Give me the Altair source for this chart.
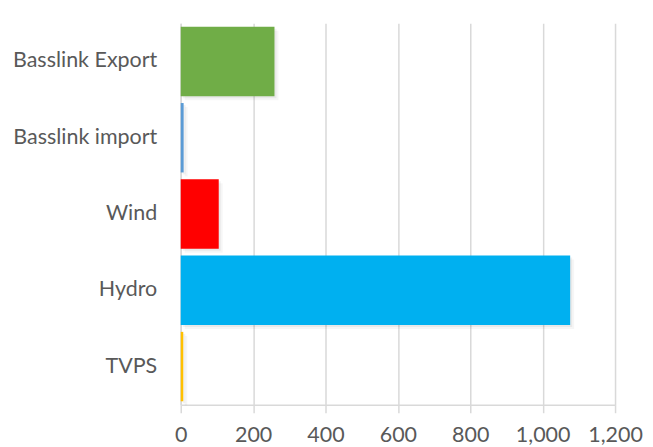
import altair as alt
import pandas as pd

categories = ["Basslink Export", "Basslink import", "Wind", "Hydro", "TVPS"]
values = [259, 8, 105, 1076, 7]
colors = ["#70ad47", "#5b9bd5", "#ff0000", "#00b0f0", "#ffc000"]

df = pd.DataFrame({"cat": categories, "val": values, "col": colors})

FONT = "Lato"
TXT = "#595959"
GRID = "#d9d9d9"

y_enc = alt.Y("cat:N", sort=categories, title=None,
              scale=alt.Scale(paddingInner=0.09, paddingOuter=0.045),
              axis=alt.Axis(labelFont=FONT, labelFontSize=21.5, labelColor=TXT,
                            labelPadding=24, ticks=False, domainColor=GRID,
                            domainWidth=1.5, grid=False))
x_enc = alt.X("val:Q", title=None,
              scale=alt.Scale(domain=[0, 1200], nice=False),
              axis=alt.Axis(values=[0, 200, 400, 600, 800, 1000, 1200], format=",d",
                            labelFont=FONT, labelFontSize=21.5, labelColor=TXT,
                            labelPadding=12, tickSize=8, tickColor=GRID, tickWidth=1.5,
                            domainColor=GRID, domainWidth=1.5,
                            gridColor=GRID, gridWidth=1.5, labelFlush=False))

shadow1 = alt.Chart(df).mark_bar(color="#000000", opacity=0.05, xOffset=2, yOffset=2).encode(
    x=x_enc, y=y_enc)
shadow2 = alt.Chart(df).mark_bar(color="#000000", opacity=0.035, xOffset=4, yOffset=4).encode(
    x="val:Q", y=alt.Y("cat:N", sort=categories))
bars = alt.Chart(df).mark_bar().encode(
    x="val:Q", y=alt.Y("cat:N", sort=categories),
    color=alt.Color("col:N", scale=None, legend=None))

chart = alt.layer(shadow2, shadow1, bars).properties(
    width=435, height=382,
    autosize=alt.AutoSizeParams(type="none"),
    padding={"left": 173, "top": 15, "right": 30, "bottom": 42},
).configure_view(stroke=None)

chart.save("out.html", embed_options={"renderer": "svg", "actions": False})
